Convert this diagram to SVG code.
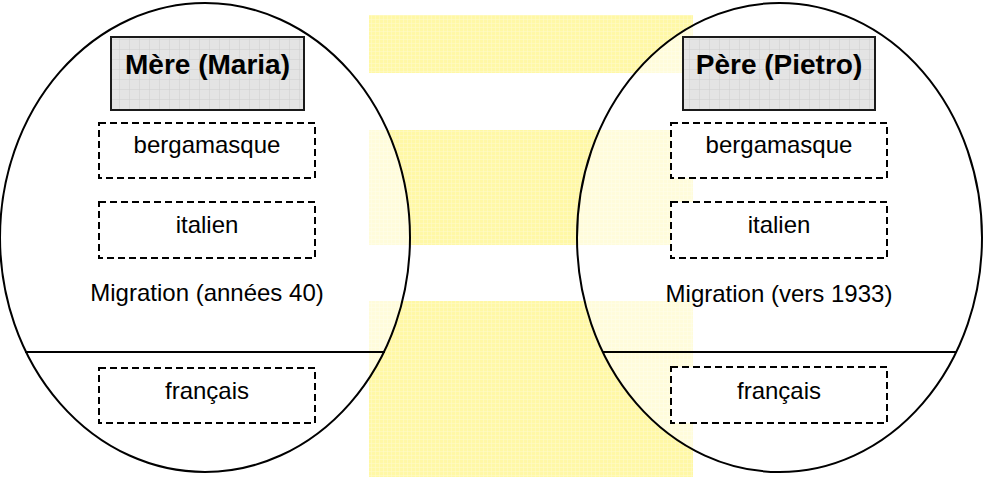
<svg xmlns="http://www.w3.org/2000/svg" width="984" height="477" viewBox="0 0 984 477">
<defs>
<pattern id="grid" width="10" height="10" patternUnits="userSpaceOnUse">
<rect width="10" height="10" fill="#e4e4e4"/>
<path d="M10 0V10M0 10H10" stroke="#cfcfcf" stroke-width="1" fill="none"/>
</pattern>
<pattern id="ygrid" width="4" height="4" patternUnits="userSpaceOnUse">
<rect width="4" height="4" fill="#fff8a6"/>
<path d="M4 0V4M0 4H4" stroke="#fffbcc" stroke-width="1" fill="none"/>
</pattern>
<style>
.band{fill:url(#ygrid)}
.circle{fill:#ffffff;fill-opacity:0.6;stroke:#000;stroke-width:2}
.sep{stroke:#000;stroke-width:2}
.lang{fill:#ffffff;stroke:#000;stroke-width:2;stroke-dasharray:7 4}
.head{fill:url(#grid);stroke:#1a1a1a;stroke-width:2}
text{font-family:"Liberation Sans",Arial,sans-serif;font-size:24px;text-anchor:middle;fill:#000}
.title{font-weight:bold;font-size:28px}
</style>
</defs>
<g id="bands">
<rect class="band" x="369" y="15" width="324" height="58"/>
<rect class="band" x="369" y="130" width="324" height="115"/>
<rect class="band" x="369" y="301" width="324" height="176"/>
</g>
<g id="mere">
<ellipse class="circle" cx="205" cy="237.5" rx="205" ry="234.5"/>
<line class="sep" x1="25" y1="352" x2="385" y2="352"/>
<rect class="head" x="111" y="37" width="193" height="73"/>
<text class="title" x="207.5" y="74">Mère (Maria)</text>
<rect class="lang" x="99" y="123" width="216" height="55"/>
<text x="207" y="153">bergamasque</text>
<rect class="lang" x="99" y="202" width="216" height="56"/>
<text x="207" y="233">italien</text>
<text x="207" y="301">Migration (années 40)</text>
<rect class="lang" x="99" y="368" width="216" height="55"/>
<text x="207" y="399">français</text>
</g>
<g id="pere">
<ellipse class="circle" cx="779.5" cy="237.5" rx="202.5" ry="234.5"/>
<line class="sep" x1="602" y1="352" x2="957" y2="352"/>
<rect class="head" x="683" y="37" width="192" height="73"/>
<text class="title" x="779" y="74">Père (Pietro)</text>
<rect class="lang" x="671" y="123" width="216" height="55"/>
<text x="779" y="153">bergamasque</text>
<rect class="lang" x="671" y="202" width="216" height="56"/>
<text x="779" y="233">italien</text>
<text x="779" y="302">Migration (vers 1933)</text>
<rect class="lang" x="671" y="367" width="216" height="56"/>
<text x="779" y="399">français</text>
</g>
<g id="connectors"></g>
</svg>
